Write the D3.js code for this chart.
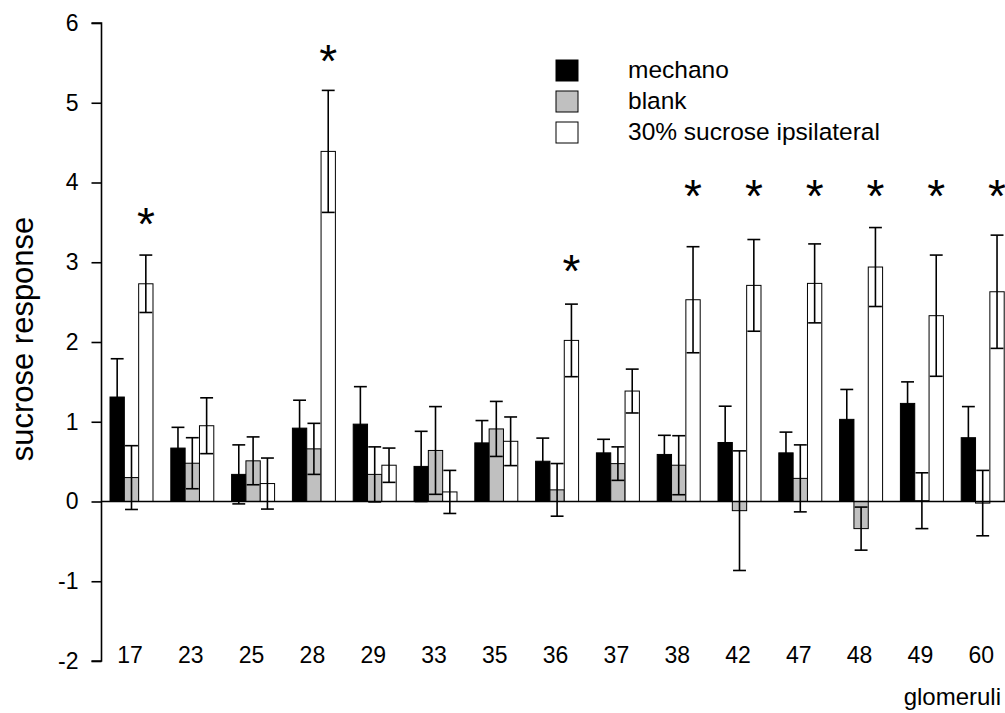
<!DOCTYPE html>
<html>
<head>
<meta charset="utf-8">
<script src="https://cdn.jsdelivr.net/npm/d3@7"></script>
<style>
    body { margin: 0; background: #fff; }
    text { font-family: "Liberation Sans", Arial, sans-serif; fill: #000; }
</style>
</head>
<body>
<div id="chart"></div>
<script>
const glomeruli = ["17", "23", "25", "28", "29", "33", "35", "36", "37", "38", "42", "47", "48", "49", "60"]
const mechano = [1.31, 0.67, 0.34, 0.92, 0.97, 0.44, 0.735, 0.505, 0.61, 0.59, 0.74, 0.61, 1.03, 1.23, 0.80]
const mechanoErr = [0.48, 0.26, 0.37, 0.35, 0.47, 0.44, 0.28, 0.29, 0.17, 0.24, 0.455, 0.26, 0.375, 0.27, 0.39]
const blank = [0.30, 0.48, 0.51, 0.66, 0.34, 0.64, 0.91, 0.146, 0.475, 0.455, -0.115, 0.29, -0.34, 0.01, -0.02]
const blankErr = [0.40, 0.32, 0.30, 0.32, 0.345, 0.55, 0.345, 0.33, 0.21, 0.37, 0.75, 0.42, 0.27, 0.35, 0.41]
const sucrose = [2.73, 0.95, 0.225, 4.39, 0.455, 0.12, 0.755, 2.02, 1.385, 2.53, 2.71, 2.735, 2.94, 2.33, 2.63]
const sucroseErr = [0.36, 0.35, 0.32, 0.765, 0.215, 0.27, 0.305, 0.455, 0.275, 0.665, 0.575, 0.495, 0.495, 0.76, 0.71]
const seriesNames = ["mechano", "blank", "30% sucrose ipsilateral"]
const seriesColors = ["#000000", "#c0c0c0", "#ffffff"]
// significance marks above the sucrose bar
const starGlomeruli = ["17", "28", "36", "38", "42", "47", "48", "49", "60"]
const starLevel = [3.61, 5.65, 3.01, 3.95, 3.95, 3.95, 3.95, 3.95, 3.95]
const yTicks = [-2, -1, 0, 1, 2, 3, 4, 5, 6]

const width = 1005
const height = 713
const axisX = 101.5

const svg = d3.select("#chart").append("svg").attr("width", width).attr("height", height)

const y = d3.scaleLinear().domain([-2, 6]).range([661, 23])
const x = d3.scaleBand().domain(glomeruli).range([101.1, 1013.1]).paddingInner(0.293).paddingOuter(0.1465)
const xSub = d3.scaleBand().domain([0, 1, 2]).range([0, x.bandwidth()])

const series = [
    {values: mechano, err: mechanoErr},
    {values: blank, err: blankErr},
    {values: sucrose, err: sucroseErr}
]

const rows = []
series.forEach((s, k) => {
    glomeruli.forEach((g, i) => rows.push({g: g, k: k, v: s.values[i], e: s.err[i]}))
})

const barGroup = svg.append("g")
barGroup.selectAll("rect").data(rows).enter()
    .append("rect")
    .attr("x", d => x(d.g) + xSub(d.k))
    .attr("y", d => y(Math.max(0, d.v)))
    .attr("width", xSub.bandwidth())
    .attr("height", d => Math.abs(y(d.v) - y(0)))
    .attr("fill", d => seriesColors[d.k])
    .attr("stroke", "#000")
    .attr("stroke-width", 1)

const errGroup = svg.append("g").attr("stroke", "#000").attr("stroke-width", 1.6)
rows.forEach(d => {
    const cx = x(d.g) + xSub(d.k) + xSub.bandwidth() / 2
    const half = xSub.bandwidth() * 0.45
    errGroup.append("line").attr("x1", cx).attr("x2", cx).attr("y1", y(d.v + d.e)).attr("y2", y(d.v - d.e))
    errGroup.append("line").attr("x1", cx - half).attr("x2", cx + half).attr("y1", y(d.v + d.e)).attr("y2", y(d.v + d.e))
    errGroup.append("line").attr("x1", cx - half).attr("x2", cx + half).attr("y1", y(d.v - d.e)).attr("y2", y(d.v - d.e))
})

// zero line
svg.append("line")
    .attr("x1", axisX).attr("x2", width)
    .attr("y1", y(0)).attr("y2", y(0))
    .attr("stroke", "#000").attr("stroke-width", 1.6)

// y axis
const yAxisGroup = svg.append("g").attr("transform", `translate(${axisX}, 0)`)
yAxisGroup.call(d3.axisLeft(y).tickValues(yTicks).tickSize(10).tickPadding(13).tickFormat(d => String(d)))
yAxisGroup.select(".domain").attr("stroke-width", 1.6).attr("d", `M-10,${y(6)}H0V${y(-2)}H-10`)
yAxisGroup.selectAll(".tick line").attr("stroke-width", 1.6)
yAxisGroup.selectAll(".tick text").attr("font-size", 23).attr("font-family", "Liberation Sans, Arial, sans-serif")

// x tick labels
svg.append("g").selectAll("text").data(glomeruli).enter()
    .append("text")
    .attr("x", d => x(d) + x.bandwidth() / 2 - 1.5)
    .attr("y", 663)
    .attr("text-anchor", "middle")
    .attr("font-size", 23)
    .text(d => d)

// stars
svg.append("g").selectAll("text").data(starGlomeruli).enter()
    .append("text")
    .attr("x", d => x(d) + xSub(2) + xSub.bandwidth() / 2)
    .attr("y", (d, i) => y(starLevel[i]) + 26)
    .attr("text-anchor", "middle")
    .attr("font-size", 46)
    .text("*")

// axis titles
svg.append("text")
    .attr("transform", "translate(33, 339) rotate(-90)")
    .attr("text-anchor", "middle")
    .attr("font-size", 31)
    .text("sucrose response")

svg.append("text")
    .attr("x", 1001)
    .attr("y", 705)
    .attr("text-anchor", "end")
    .attr("font-size", 24)
    .text("glomeruli")

// legend
const legend = svg.append("g").attr("transform", "translate(556, 60)")
seriesNames.forEach((name, k) => {
    legend.append("rect")
        .attr("x", 0).attr("y", k * 31)
        .attr("width", 22).attr("height", 21)
        .attr("fill", seriesColors[k])
        .attr("stroke", "#000").attr("stroke-width", 1)
    legend.append("text")
        .attr("x", 72).attr("y", k * 31 + 18)
        .attr("font-size", 24.5)
        .text(name)
})
</script>
</body>
</html>
